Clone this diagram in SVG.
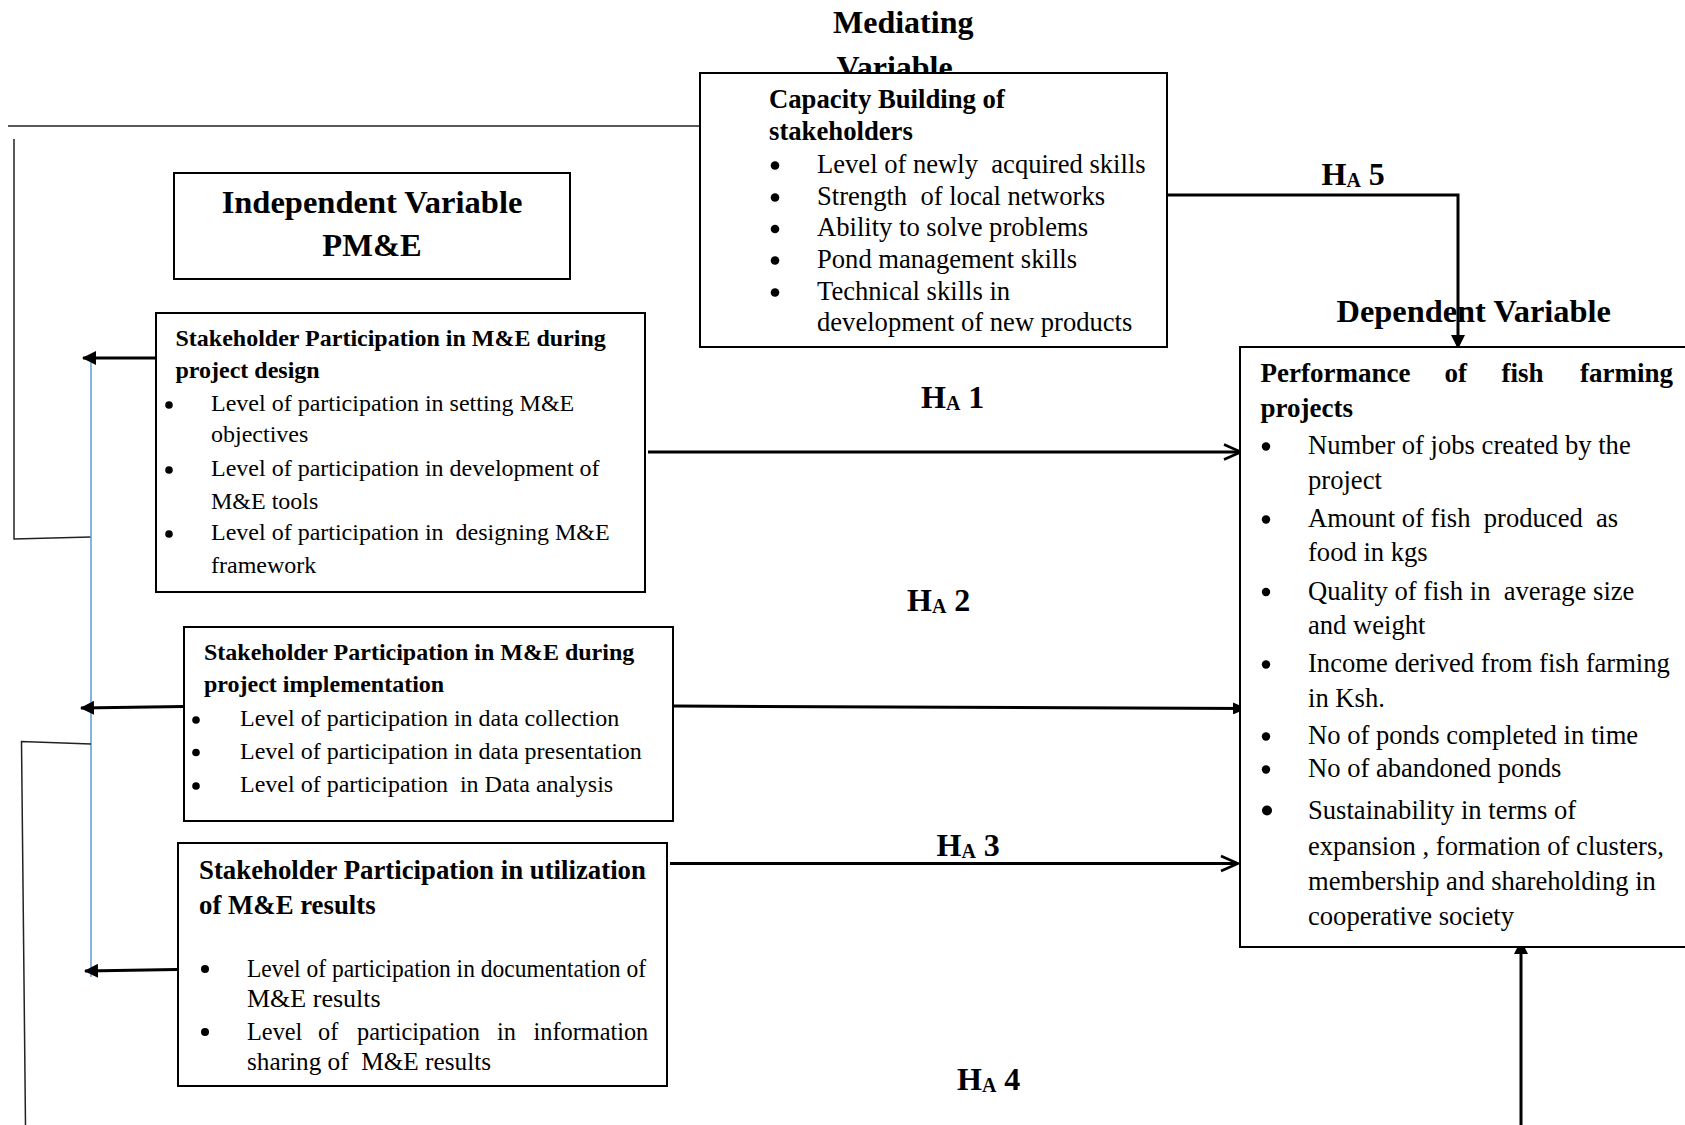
<svg xmlns="http://www.w3.org/2000/svg" width="1685" height="1125" viewBox="0 0 1685 1125">
<style>
.t{font-family:"Liberation Serif","Times New Roman",serif;fill:#000;white-space:pre}
.b{font-weight:bold}
.s24{font-size:24px}
.s26{font-size:26px}
.s266{font-size:26.6px}
.s27{font-size:27px}
.s32{font-size:32px}
.box{fill:#fff;stroke:#000;stroke-width:2}
.ln{fill:none;stroke:#000;stroke-width:3}
.thin{fill:none;stroke:#222;stroke-width:1.5}
.blue{fill:none;stroke:#5b9bd5;stroke-width:1.5}
</style>
<defs>
<marker id="tri" viewBox="0 0 14 14" refX="13" refY="7" markerWidth="14" markerHeight="14" orient="auto" markerUnits="userSpaceOnUse"><path d="M0,0 L14,7 L0,14 z" fill="#000"/></marker>
<marker id="tris" viewBox="0 0 14 12" refX="13" refY="6" markerWidth="14" markerHeight="12" orient="auto" markerUnits="userSpaceOnUse"><path d="M0,0 L14,6 L0,12 z" fill="#000"/></marker>
<marker id="chev" viewBox="0 0 20 20" refX="18" refY="10" markerWidth="20" markerHeight="20" orient="auto" markerUnits="userSpaceOnUse"><path d="M1,2.5 L18,10 L1,17.5" fill="none" stroke="#000" stroke-width="2.5"/></marker>
</defs>

<g id="connectors">
<path class="thin" d="M8,126 L700,126" stroke="#444"/>
<path class="thin" d="M14,139 L14,539 L91,537"/>
<path class="blue" d="M91,360 L91,977"/>
<path class="thin" d="M91,744 L21.5,741.5 L25.5,1125"/>
<path class="ln" d="M155,358 L83,358" marker-end="url(#tri)"/>
<path class="ln" d="M184,706.5 L81,708" marker-end="url(#tri)"/>
<path class="ln" d="M177,969.5 L85,971" marker-end="url(#tri)"/>
<path class="ln" d="M648,452 L1241,452" marker-end="url(#chev)"/>
<path class="ln" d="M674,706 L1246,708.5" marker-end="url(#tris)"/>
<path class="ln" d="M670,863.5 L1238,863.5" marker-end="url(#chev)"/>
<path class="ln" d="M1167,195 L1458,195 L1458,348" stroke-width="2" marker-end="url(#tri)"/>
<path class="ln" d="M1521,1125 L1521,941" marker-end="url(#tri)"/>
<path d="M1458,367 L1470,359" stroke="#5b9bd5" stroke-width="1"/>
</g>

<g id="labels">
<text class="t b s32" x="921" y="408">H<tspan font-size="20" dy="2">A</tspan><tspan dy="-2"> 1</tspan></text>
<text class="t b s32" x="907" y="611">H<tspan font-size="20" dy="2">A</tspan><tspan dy="-2"> 2</tspan></text>
<text class="t b s32" x="936.5" y="856">H<tspan font-size="20" dy="2">A</tspan><tspan dy="-2"> 3</tspan></text>
<text class="t b s32" x="957" y="1090">H<tspan font-size="20" dy="2">A</tspan><tspan dy="-2"> 4</tspan></text>
<text class="t b s32" x="1321.5" y="185">H<tspan font-size="20" dy="2">A</tspan><tspan dy="-2"> 5</tspan></text>
</g>

<g id="mediating-title">
<text class="t b s32" x="833" y="33">Mediating</text>
<text class="t b s32" x="836.5" y="78">Variable</text>
</g>

<g id="capacity">
<rect class="box" x="700" y="73" width="467" height="274"/>
<text class="t b" font-size="26.7" x="769" y="108">Capacity Building of</text>
<text class="t b" font-size="26.7" x="769" y="140">stakeholders</text>
<g fill="#000"><circle cx="775" cy="165.5" r="4.3"/><circle cx="775" cy="197.5" r="4.3"/><circle cx="775" cy="229" r="4.3"/><circle cx="775" cy="260.5" r="4.3"/><circle cx="775" cy="292.5" r="4.3"/></g>
<text class="t s266" x="817" y="172.5">Level of newly  acquired skills</text>
<text class="t s266" x="817" y="204.5">Strength  of local networks</text>
<text class="t s266" x="817" y="236">Ability to solve problems</text>
<text class="t s266" x="817" y="267.5">Pond management skills</text>
<text class="t s266" x="817" y="299.5">Technical skills in</text>
<text class="t s266" x="817" y="331">development of new products</text>
</g>

<g id="independent">
<rect class="box" x="174" y="173" width="396" height="106"/>
<text class="t b" font-size="32.5" x="372" y="213" text-anchor="middle">Independent Variable</text>
<text class="t b" font-size="32.5" x="372" y="256" text-anchor="middle">PM&amp;E</text>
</g>

<g id="design">
<rect class="box" x="156" y="313" width="489" height="279"/>
<text class="t b s24" x="175.5" y="346">Stakeholder Participation in M&amp;E during</text>
<text class="t b s24" x="175.5" y="377.5">project design</text>
<g fill="#000"><circle cx="169" cy="405" r="3.8"/><circle cx="169" cy="470" r="3.8"/><circle cx="169" cy="534" r="3.8"/></g>
<text class="t s24" x="211" y="411">Level of participation in setting M&amp;E</text>
<text class="t s24" x="211" y="442">objectives</text>
<text class="t s24" x="211" y="476">Level of participation in development of</text>
<text class="t s24" x="211" y="508.5">M&amp;E tools</text>
<text class="t s24" x="211" y="540">Level of participation in  designing M&amp;E</text>
<text class="t s24" x="211" y="572.5">framework</text>
</g>

<g id="implementation">
<rect class="box" x="184" y="627" width="489" height="194"/>
<text class="t b s24" x="204" y="660">Stakeholder Participation in M&amp;E during</text>
<text class="t b s24" x="204" y="692">project implementation</text>
<g fill="#000"><circle cx="196" cy="720" r="3.8"/><circle cx="196" cy="752.5" r="3.8"/><circle cx="196" cy="786" r="3.8"/></g>
<text class="t s24" x="240" y="726">Level of participation in data collection</text>
<text class="t s24" x="240" y="759">Level of participation in data presentation</text>
<text class="t s24" x="240" y="792">Level of participation  in Data analysis</text>
</g>

<g id="utilization">
<rect class="box" x="178" y="843" width="489" height="243"/>
<text class="t b" font-size="26.8" x="199" y="879">Stakeholder Participation in utilization</text>
<text class="t b" font-size="26.8" x="199" y="914">of M&amp;E results</text>
<g fill="#000"><circle cx="205" cy="969" r="4"/><circle cx="205" cy="1032" r="4"/></g>
<text class="t s26" x="247" y="977" textLength="399" lengthAdjust="spacingAndGlyphs">Level of participation in documentation of</text>
<text class="t s26" x="247" y="1007">M&amp;E results</text>
<text class="t" font-size="24.3" y="1040"><tspan x="247">Level</tspan><tspan x="318">of</tspan><tspan x="357">participation</tspan><tspan x="497">in</tspan><tspan x="533.5">information</tspan></text>
<text class="t s26" x="247" y="1070" textLength="244" lengthAdjust="spacingAndGlyphs">sharing of  M&amp;E results</text>
</g>

<g id="dependent-title">
<text class="t b" font-size="32.4" x="1336.5" y="322">Dependent Variable</text>
</g>

<g id="dependent">
<rect class="box" x="1240" y="347" width="460" height="600" fill="none"/>
<text class="t b s27" y="382"><tspan x="1260.5">Performance</tspan><tspan x="1444.5">of</tspan><tspan x="1501.5">fish</tspan><tspan x="1580">farming</tspan></text>
<text class="t b s27" x="1260.5" y="417">projects</text>
<g fill="#000"><circle cx="1266" cy="446.5" r="4.2"/><circle cx="1266" cy="519.5" r="4.2"/><circle cx="1266" cy="592" r="4.2"/><circle cx="1266" cy="664.5" r="4.2"/><circle cx="1266" cy="736.5" r="4.2"/><circle cx="1266" cy="769.5" r="4.2"/><circle cx="1267" cy="810.5" r="5"/></g>
<text class="t s266" x="1308" y="454">Number of jobs created by the</text>
<text class="t s266" x="1308" y="488.5">project</text>
<text class="t s266" x="1308" y="527">Amount of fish  produced  as</text>
<text class="t s266" x="1308" y="561">food in kgs</text>
<text class="t s266" x="1308" y="599.5">Quality of fish in  average size</text>
<text class="t s266" x="1308" y="634">and weight</text>
<text class="t s266" x="1308" y="672">Income derived from fish farming</text>
<text class="t s266" x="1308" y="707">in Ksh.</text>
<text class="t s266" x="1308" y="744">No of ponds completed in time</text>
<text class="t s266" x="1308" y="777">No of abandoned ponds</text>
<text class="t s266" x="1308" y="819">Sustainability in terms of</text>
<text class="t s266" x="1308" y="855">expansion , formation of clusters,</text>
<text class="t s266" x="1308" y="889.5">membership and shareholding in</text>
<text class="t s266" x="1308" y="925">cooperative society</text>
</g>
</svg>
